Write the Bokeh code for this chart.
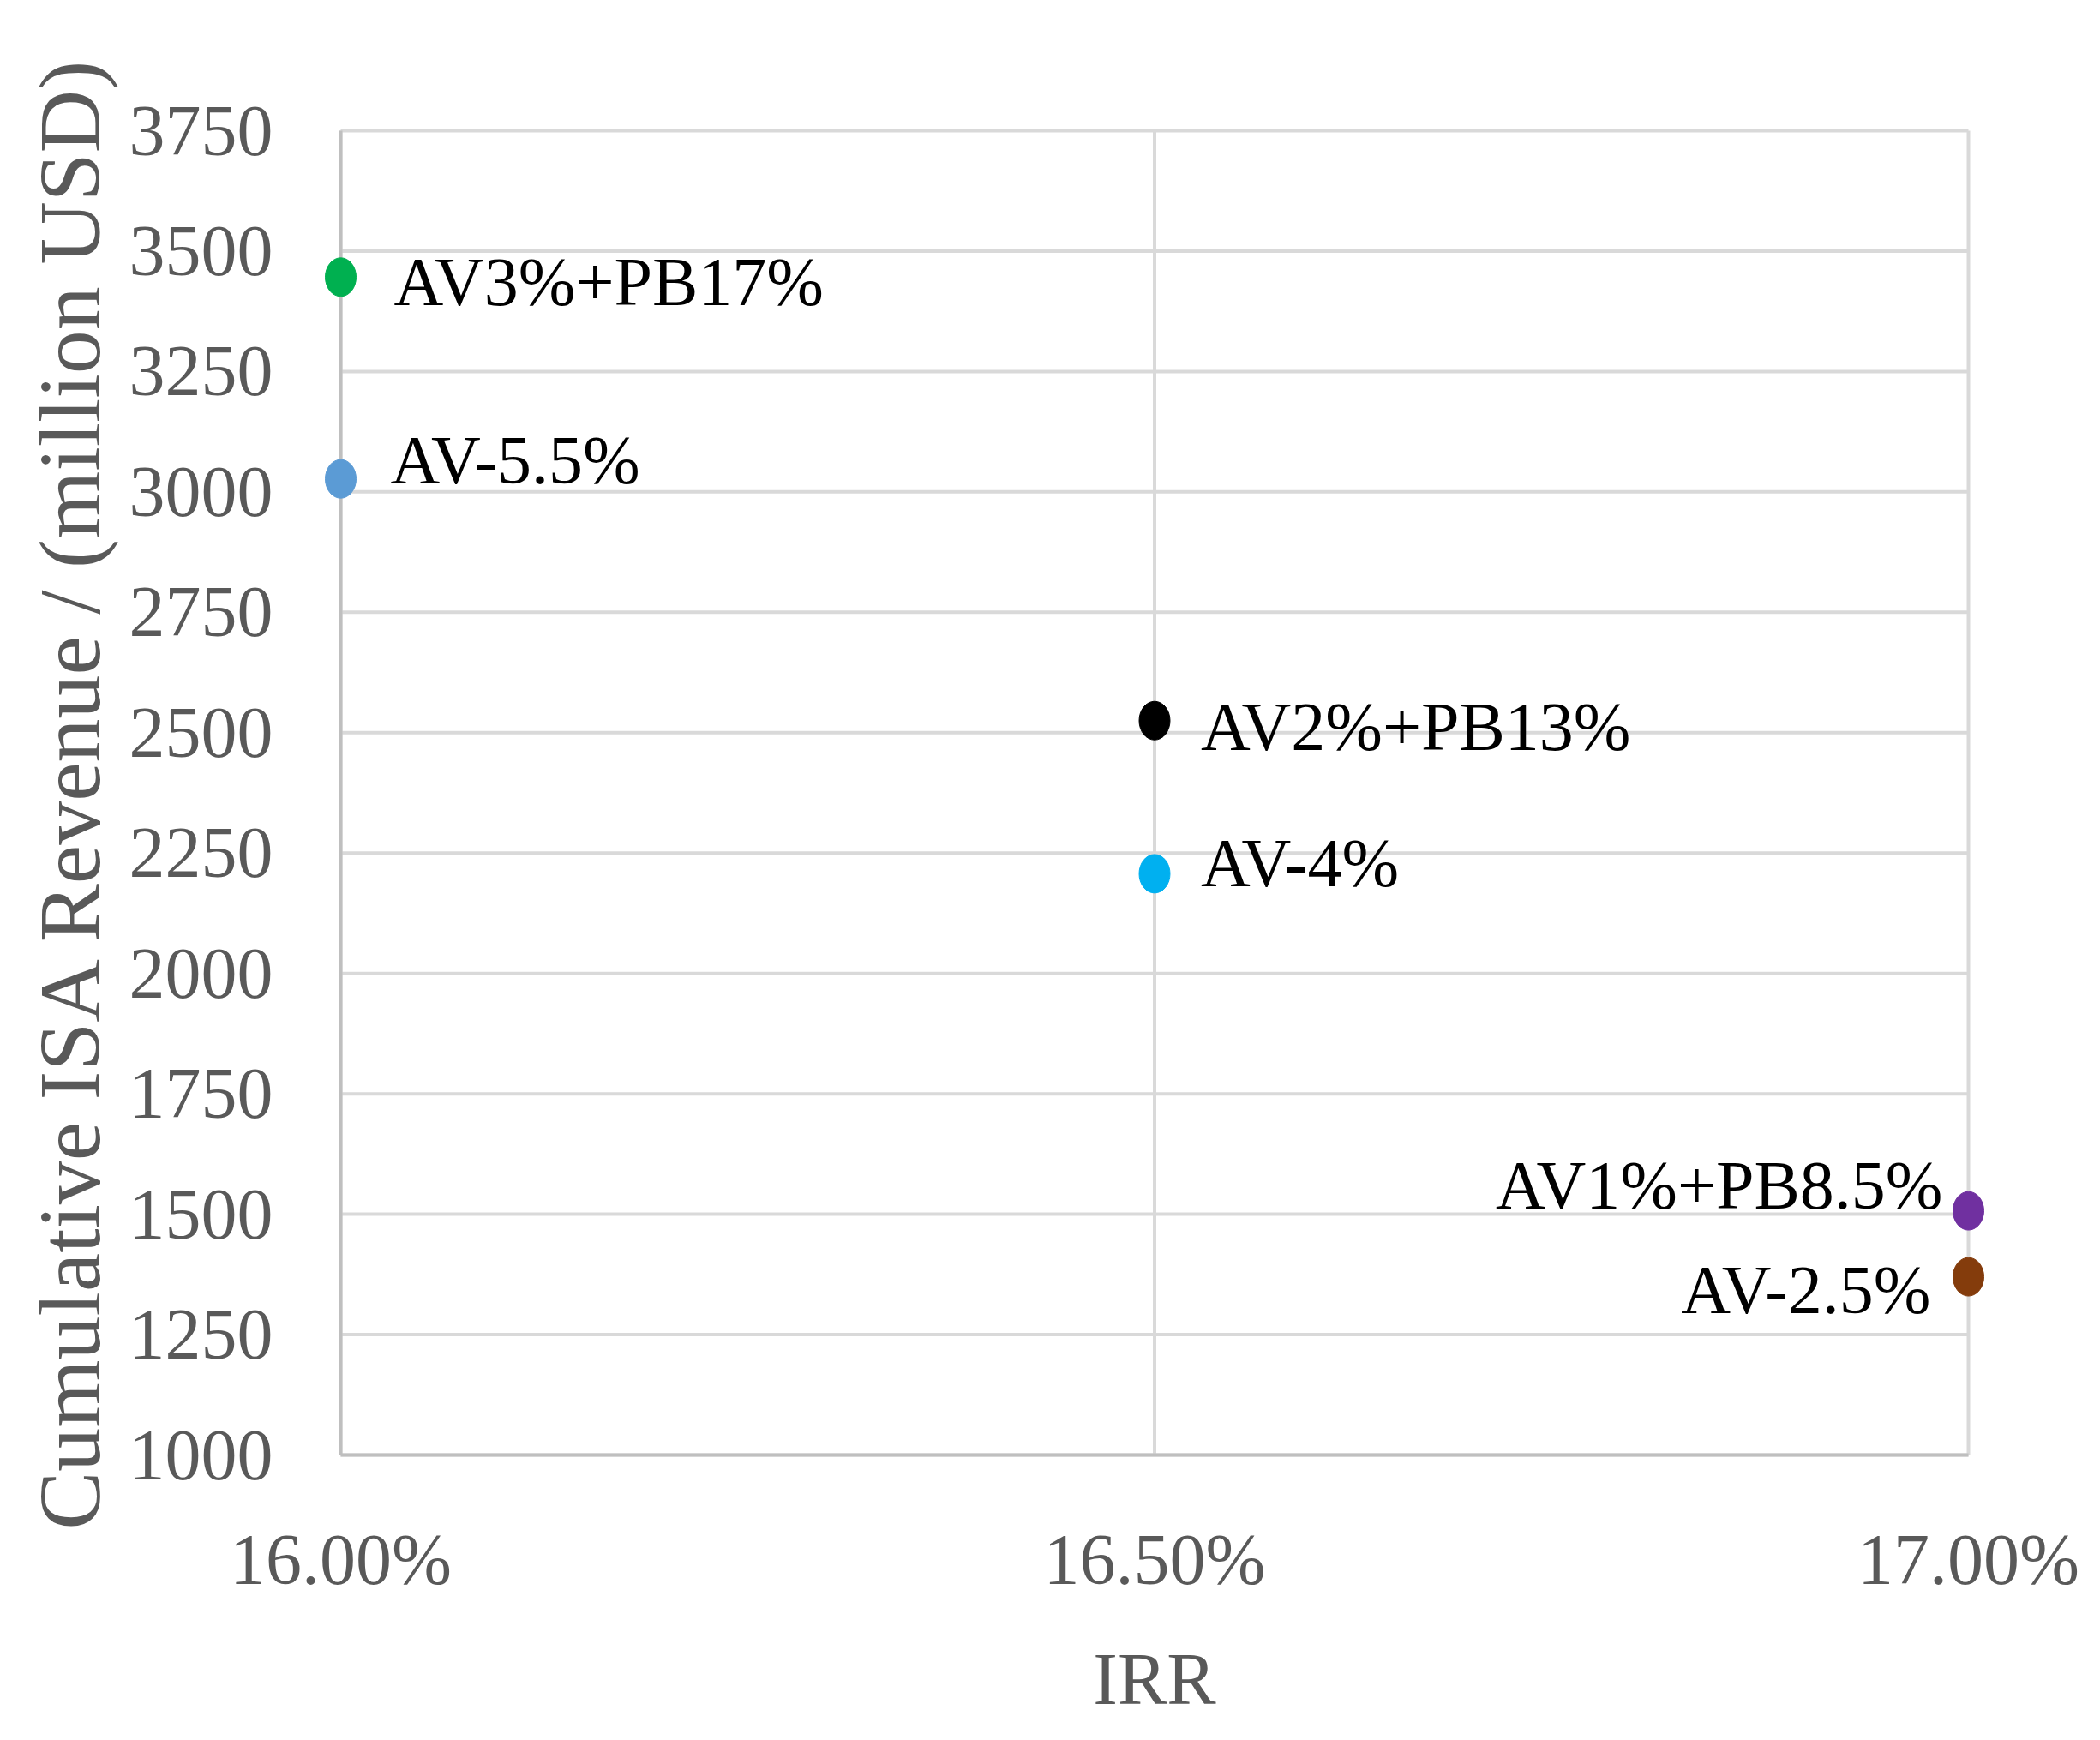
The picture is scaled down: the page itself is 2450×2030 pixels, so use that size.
from bokeh.plotting import figure
from bokeh.models import Range1d, FixedTicker, NumeralTickFormatter, ColumnDataSource
from bokeh.core.properties import value
from bokeh.embed import file_html
from bokeh.resources import INLINE

# ---- data ----
labels = ["AV3%+PB17%", "AV-5.5%", "AV2%+PB13%", "AV-4%", "AV1%+PB8.5%", "AV-2.5%"]
irr = [0.16, 0.16, 0.165, 0.165, 0.17, 0.17]
revenue = [3446, 3027, 2525, 2207, 1507, 1370]
colors = ["#00B050", "#5B9BD5", "#000000", "#00B0F0", "#7030A0", "#843C0C"]
x_ticks = [0.16, 0.165, 0.17]
y_ticks = [1000, 1250, 1500, 1750, 2000, 2250, 2500, 2750, 3000, 3250, 3500, 3750]

# ---- label placement (screen px offsets, style only) ----
label_align = ["left", "left", "left", "left", "right", "right"]
label_dx = [62, 58, 54, 54, -30, -44]
label_dy = [6, -22, 7, -12, -30, 15]

FONT = "Liberation Serif"
GRAY = "#595959"

data_w, data_h = 1899, 1545
pad = 22
fw, fh = data_w + 2 * pad, data_h + 2 * pad
x0, x1 = x_ticks[0], x_ticks[-1]
y0, y1 = y_ticks[0], y_ticks[-1]
xpad = pad * (x1 - x0) / data_w
ypad = pad * (y1 - y0) / data_h

p = figure(
    frame_width=fw, frame_height=fh,
    x_range=Range1d(x0 - xpad, x1 + xpad),
    y_range=Range1d(y0 - ypad, y1 + ypad),
    output_backend="svg", toolbar_location=None,
    min_border_left=375, min_border_right=116,
    min_border_top=130, min_border_bottom=291,
)
p.outline_line_color = None
p.xgrid.visible = False
p.ygrid.visible = False

# grid lines from tick arrays
p.segment(x0=[x0] * len(y_ticks), x1=[x1] * len(y_ticks), y0=y_ticks, y1=y_ticks,
          line_color="#D9D9D9", line_width=4)
p.segment(x0=x_ticks, x1=x_ticks, y0=[y0] * len(x_ticks), y1=[y1] * len(x_ticks),
          line_color="#D9D9D9", line_width=4)
# axis lines
p.segment(x0=[x0], x1=[x0], y0=[y0], y1=[y1], line_color="#BFBFBF", line_width=4)
p.segment(x0=[x0], x1=[x1], y0=[y0], y1=[y0], line_color="#BFBFBF", line_width=4)

src = ColumnDataSource(dict(x=irr, y=revenue, c=colors, t=labels,
                            dx=label_dx, dy=label_dy, al=label_align))
p.ellipse(x="x", y="y", width=36, height=45, width_units="screen", height_units="screen",
          fill_color="c", line_color="c", line_width=1, source=src)
p.text(x="x", y="y", text="t", x_offset="dx", y_offset="dy", text_align="al",
       text_baseline="middle", text_font=value(FONT), text_font_size="80px",
       text_color="#000000", source=src)

for ax in (p.xaxis, p.yaxis):
    ax.axis_line_color = None
    ax.major_tick_line_color = None
    ax.minor_tick_line_color = None
    ax.major_tick_out = 0
    ax.major_tick_in = 0
    ax.major_label_text_font = FONT
    ax.major_label_text_color = GRAY
    ax.major_label_text_font_size = "84px"
    ax.axis_label_text_font = FONT
    ax.axis_label_text_color = GRAY
    ax.axis_label_text_font_style = "normal"

p.xaxis.ticker = FixedTicker(ticks=x_ticks)
p.xaxis.formatter = NumeralTickFormatter(format="0.00%")
p.yaxis.ticker = FixedTicker(ticks=y_ticks)

p.xaxis.axis_label = "IRR"
p.xaxis.axis_label_text_font_size = "86px"
p.xaxis.major_label_standoff = 53
p.xaxis.axis_label_standoff = 42

p.yaxis.axis_label = "Cumulative ISA Revenue / (million USD)"
p.yaxis.axis_label_text_font_size = "102px"
p.yaxis.major_label_standoff = 57
p.yaxis.axis_label_standoff = 10

open("out.html", "w").write(file_html(p, INLINE))
